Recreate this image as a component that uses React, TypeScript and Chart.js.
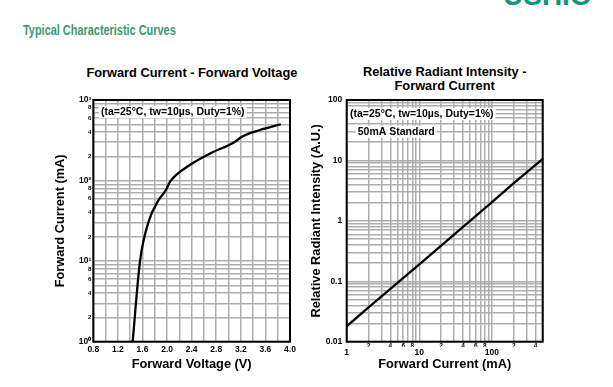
import React, { useEffect, useRef } from "react";
import { Chart, registerables } from "chart.js";

Chart.register(...registerables);

const FONT = '"Liberation Sans", Arial, Helvetica, sans-serif';

// ---- Chart 1: Forward Current - Forward Voltage ----
const fvVoltage = [1.44, 1.56, 1.7, 1.86, 1.98, 2.05, 2.37, 2.7, 3.08, 3.24, 3.51, 3.85];
const fvCurrent = [1, 10, 31, 57, 76, 97, 156, 217, 295, 357, 424, 500];
const fvVoltageTicks = [0.8, 1.0, 1.2, 1.4, 1.6, 1.8, 2.0, 2.2, 2.4, 2.6, 2.8, 3.0, 3.2, 3.4, 3.6, 3.8, 4.0];
const fvVoltageLabels = ["0.8", "", "1.2", "", "1.6", "", "2.0", "", "2.4", "", "2.8", "", "3.2", "", "3.6", "", "4.0"];
const fvCurrentTicks = [
  1, 2, 3, 4, 5, 6, 7, 8, 9,
  10, 20, 30, 40, 50, 60, 70, 80, 90,
  100, 200, 300, 400, 500, 600, 700, 800, 900,
  1000,
];
const fvCurrentLabels = [
  "10⁰", "2", "", "4", "", "6", "", "8", "",
  "10¹", "2", "", "4", "", "6", "", "8", "",
  "10²", "2", "", "4", "", "6", "", "8", "",
  "10³",
];

// ---- Chart 2: Relative Radiant Intensity - Forward Current ----
const riCurrent = [1, 2, 5, 10, 20, 50, 100, 200, 500];
const riIntensity = [0.018, 0.037, 0.094, 0.19, 0.39, 1.0, 2.05, 4.2, 10.6];
const riCurrentTicks = [
  1, 2, 3, 4, 5, 6, 7, 8, 9,
  10, 20, 30, 40, 50, 60, 70, 80, 90,
  100, 200, 300, 400, 500,
];
const riCurrentMinorLabels = [
  "", "2", "", "4", "", "6", "", "8", "",
  "", "2", "", "4", "", "6", "", "8", "",
  "", "2", "", "4", "",
];
const riCurrentMajorTicks = [1, 10, 100];
const riCurrentMajorLabels = ["1", "10", "100"];
const riIntensityTicks = [
  0.01, 0.02, 0.03, 0.04, 0.05, 0.06, 0.07, 0.08, 0.09,
  0.1, 0.2, 0.3, 0.4, 0.5, 0.6, 0.7, 0.8, 0.9,
  1, 2, 3, 4, 5, 6, 7, 8, 9,
  10, 20, 30, 40, 50, 60, 70, 80, 90,
  100,
];
const riIntensityLabels = [
  "0.01", "", "", "", "", "", "", "", "",
  "0.1", "", "", "", "", "", "", "", "",
  "1", "", "", "", "", "", "", "", "",
  "10", "", "", "", "", "", "", "", "",
  "100",
];

const NOTE = "(ta=25°C, tw=10µs, Duty=1%)";
const GRID = { color: "#adadad", lineWidth: 1.5, drawTicks: false };

type Note = { text: string; dx: number; dy: number };

function framePlugin(notes: Note[]) {
  return {
    id: "frameNotes",
    beforeDatasetsDraw(chart: any) {
      const { ctx, chartArea: a } = chart;
      ctx.save();
      ctx.font = `bold 10.5px ${FONT}`;
      ctx.textBaseline = "middle";
      ctx.textAlign = "left";
      for (const n of notes) {
        const w = ctx.measureText(n.text).width;
        ctx.fillStyle = "#fff";
        ctx.fillRect(a.left + n.dx - 2, a.top + n.dy - 6, w + 4, 12);
        ctx.fillStyle = "#000";
        ctx.fillText(n.text, a.left + n.dx, a.top + n.dy);
      }
      ctx.restore();
    },
    afterDraw(chart: any) {
      const { ctx, chartArea: a } = chart;
      ctx.save();
      ctx.strokeStyle = "#000";
      ctx.lineWidth = 2;
      ctx.strokeRect(a.left, a.top, a.right - a.left, a.bottom - a.top);
      ctx.restore();
    },
  };
}

function setTicks(values: number[]) {
  return (axis: any) => {
    axis.ticks = values.map((v) => ({ value: v }));
  };
}

function fixWidth(w: number) {
  return (s: any) => {
    s.width = w;
  };
}
function fixHeight(h: number) {
  return (s: any) => {
    s.height = h;
  };
}

const axisTitleFont = { family: FONT, size: 12.8, weight: "bold" as const };

function fvConfig(): any {
  return {
    type: "line",
    data: {
      datasets: [
        {
          data: fvVoltage.map((v, i) => ({ x: v, y: fvCurrent[i] })),
          borderColor: "#000",
          borderWidth: 2.3,
          pointRadius: 0,
          fill: false,
          cubicInterpolationMode: "monotone",
        },
      ],
    },
    options: {
      responsive: false,
      animation: false,
      devicePixelRatio: 1,
      layout: { padding: { left: 49, right: 10, top: 55, bottom: 5 } },
      plugins: { legend: { display: false }, tooltip: { enabled: false }, title: { display: false } },
      scales: {
        x: {
          type: "linear",
          min: 0.8,
          max: 4.0,
          grid: GRID,
          border: { display: false },
          afterBuildTicks: setTicks(fvVoltageTicks),
          afterFit: fixHeight(33.3),
          ticks: {
            autoSkip: false,
            maxRotation: 0,
            padding: 3,
            color: "#000",
            font: { family: FONT, size: 8.5, weight: "bold" },
            callback: (_v: any, i: number) => fvVoltageLabels[i],
          },
          title: { display: true, text: "Forward Voltage (V)", color: "#000", font: axisTitleFont, padding: { top: 0, bottom: 2.5 } },
        },
        y: {
          type: "logarithmic",
          min: 1,
          max: 1000,
          grid: GRID,
          border: { display: false },
          afterBuildTicks: setTicks(fvCurrentTicks),
          afterFit: fixWidth(44.3),
          ticks: {
            autoSkip: false,
            padding: 2,
            color: "#000",
            font: (c: any) => ({
              family: FONT,
              weight: "bold",
              size: (fvCurrentLabels[c.index] || "").startsWith("10") ? 8.5 : 6,
            }),
            callback: (_v: any, i: number) => fvCurrentLabels[i],
          },
          title: { display: true, text: "Forward Current (mA)", color: "#000", font: axisTitleFont, padding: { top: 4, bottom: 0 } },
        },
      },
    },
    plugins: [framePlugin([{ text: NOTE, dx: 7.7, dy: 12 }])],
  };
}

function riConfig(): any {
  return {
    type: "line",
    data: {
      datasets: [
        {
          data: riCurrent.map((v, i) => ({ x: v, y: riIntensity[i] })),
          borderColor: "#000",
          borderWidth: 2.3,
          pointRadius: 0,
          fill: false,
          xAxisID: "x",
          yAxisID: "y",
        },
      ],
    },
    options: {
      responsive: false,
      animation: false,
      devicePixelRatio: 1,
      layout: { padding: { left: 4.5, right: 70.3, top: 55, bottom: 5 } },
      plugins: { legend: { display: false }, tooltip: { enabled: false }, title: { display: false } },
      scales: {
        x: {
          type: "logarithmic",
          position: "bottom",
          weight: 0,
          min: 1,
          max: 500,
          grid: GRID,
          border: { display: false },
          afterBuildTicks: setTicks(riCurrentTicks),
          afterFit: fixHeight(5),
          ticks: {
            autoSkip: false,
            maxRotation: 0,
            padding: 1,
            color: "#000",
            font: { family: FONT, size: 6.5, weight: "bold" },
            callback: (_v: any, i: number) => riCurrentMinorLabels[i],
          },
        },
        x2: {
          type: "logarithmic",
          position: "bottom",
          weight: 1,
          min: 1,
          max: 500,
          grid: { display: false, drawTicks: false },
          border: { display: false },
          afterBuildTicks: setTicks(riCurrentMajorTicks),
          afterFit: fixHeight(28.3),
          ticks: {
            autoSkip: false,
            maxRotation: 0,
            padding: 1,
            color: "#000",
            font: { family: FONT, size: 8.5, weight: "bold" },
            callback: (_v: any, i: number) => riCurrentMajorLabels[i],
          },
          title: { display: true, text: "Forward Current (mA)", color: "#000", font: axisTitleFont, padding: { top: 0, bottom: 2.5 } },
        },
        y: {
          type: "logarithmic",
          min: 0.01,
          max: 100,
          grid: GRID,
          border: { display: false },
          afterBuildTicks: setTicks(riIntensityTicks),
          afterFit: fixWidth(42.2),
          ticks: {
            autoSkip: false,
            padding: 4.5,
            color: "#000",
            font: { family: FONT, size: 8.5, weight: "bold" },
            callback: (_v: any, i: number) => riIntensityLabels[i],
          },
          title: {
            display: true,
            text: "Relative Radiant Intensity (A.U.)",
            color: "#000",
            font: axisTitleFont,
            padding: { top: 4, bottom: 0 },
          },
        },
      },
    },
    plugins: [
      framePlugin([
        { text: NOTE, dx: 3.3, dy: 14 },
        { text: "50mA Standard", dx: 11, dy: 31.7 },
      ]),
    ],
  };
}

function ChartBox(props: { config: () => any; left: number; top: number; width: number; height: number }) {
  const ref = useRef<HTMLCanvasElement>(null);
  useEffect(() => {
    const chart = new Chart(ref.current as HTMLCanvasElement, props.config());
    return () => chart.destroy();
  }, []);
  return (
    <canvas
      ref={ref}
      width={props.width}
      height={props.height}
      style={{ position: "absolute", left: props.left, top: props.top, width: props.width, height: props.height }}
    />
  );
}

const titleStyle: React.CSSProperties = {
  position: "absolute",
  font: `bold 12.8px ${FONT}`,
  color: "#000",
  textAlign: "center",
  lineHeight: "14px",
  whiteSpace: "nowrap",
};

export default function App() {
  return (
    <div
      style={{
        position: "absolute",
        left: 0,
        top: 0,
        width: 613,
        height: 387,
        background: "#fff",
        overflow: "hidden",
      }}
    >
      <div
        style={{
          position: "absolute",
          left: 503,
          top: -18,
          font: `bold 28px ${FONT}`,
          lineHeight: "28px",
          color: "#0e957a",
          whiteSpace: "nowrap",
        }}
      >
        USHIO
      </div>
      <div
        style={{
          position: "absolute",
          left: 23,
          top: 22,
          font: `bold 14px ${FONT}`,
          lineHeight: "16px",
          color: "#3a9a74",
          whiteSpace: "nowrap",
          transform: "scaleX(0.78)",
          transformOrigin: "left center",
        }}
      >
        Typical Characteristic Curves
      </div>
      <div style={{ ...titleStyle, left: 86.4, width: 200, top: 66 }}>Forward Current - Forward Voltage</div>
      <div style={{ ...titleStyle, left: 344.7, width: 200, top: 64.7 }}>
        Relative Radiant Intensity -
        <br />
        Forward Current
      </div>
      <ChartBox config={fvConfig} left={0} top={45} width={300} height={335} />
      <ChartBox config={riConfig} left={300} top={45} width={313} height={335} />
    </div>
  );
}
